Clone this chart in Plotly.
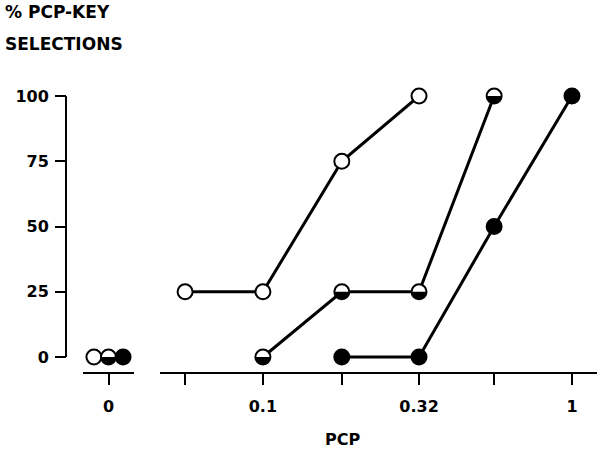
import plotly.graph_objects as go

# ---- data ----
DOSE_TICKS = [0.056, 0.1, 0.18, 0.32, 0.56, 1]
DOSE_TICK_TEXT = ["", "0.1", "", "0.32", "", "1"]
Y_TICKS = [0, 25, 50, 75, 100]

open_x = [0.056, 0.1, 0.18, 0.32]
open_y = [25, 25, 75, 100]
half_x = [0.1, 0.18, 0.32, 0.56]
half_y = [0, 25, 25, 100]
filled_x = [0.18, 0.32, 0.56, 1]
filled_y = [0, 0, 50, 100]
zero_y = [0, 0, 0]  # open, half, filled at PCP = 0

# ---- layout geometry (pixels) ----
W, H = 601, 450
L, R, T, B = 66, 4, 96, 77
PW, PH = W - L - R, H - T - B
Y0_PX = 357  # pixel row of y=0
Y_LO = min(Y_TICKS) - (H - B - Y0_PX) * (max(Y_TICKS) - min(Y_TICKS)) / (Y0_PX - T)


def px_x(px):
    return (px - L) / PW


def px_y(py):
    return (H - B - py) / PH


FONT = dict(family="DejaVu Sans", size=16, color="black", weight="bold")
TFONT = dict(family="DejaVu Sans", size=17, color="black", weight="bold")
MS = 15
R_HALF = 7.5
k = 0.5523 * R_HALF
HALF_PATH = (f"M {-R_HALF},0 C {-R_HALF},{-k} {-k},{-R_HALF} 0,{-R_HALF} "
             f"C {k},{-R_HALF} {R_HALF},{-k} {R_HALF},0 Z")
ZERO_SLOTS = [-1, 0, 1]

open_marker = dict(symbol="circle", size=MS, color="white", line=dict(color="black", width=2))
filled_marker = dict(symbol="circle", size=MS, color="black", line=dict(color="black", width=2))
line_style = dict(color="black", width=3)

fig = go.Figure()
fig.add_trace(go.Scatter(x=open_x, y=open_y, xaxis="x2", yaxis="y", mode="lines+markers",
                         marker=open_marker, line=line_style, cliponaxis=False))
fig.add_trace(go.Scatter(x=half_x, y=half_y, xaxis="x2", yaxis="y", mode="lines+markers",
                         marker=open_marker, line=line_style, cliponaxis=False))
fig.add_trace(go.Scatter(x=filled_x, y=filled_y, xaxis="x2", yaxis="y", mode="lines+markers",
                         marker=filled_marker, line=line_style, cliponaxis=False))
# PCP = 0 points
fig.add_trace(go.Scatter(x=[ZERO_SLOTS[0]], y=[zero_y[0]], xaxis="x", yaxis="y", mode="markers",
                         marker=open_marker, cliponaxis=False))
fig.add_trace(go.Scatter(x=[ZERO_SLOTS[1]], y=[zero_y[1]], xaxis="x", yaxis="y", mode="markers",
                         marker=open_marker, cliponaxis=False))
fig.add_trace(go.Scatter(x=[ZERO_SLOTS[2]], y=[zero_y[2]], xaxis="x", yaxis="y", mode="markers",
                         marker=filled_marker, cliponaxis=False))

shapes = []
# y axis line spanning only 0..100
shapes.append(dict(type="line", xref="paper", yref="y", x0=0, x1=0,
                   y0=min(Y_TICKS), y1=max(Y_TICKS), line=dict(color="black", width=2)))
# lower-half fill for the half-filled symbols
for xv, yv in zip(half_x, half_y):
    shapes.append(dict(type="path", xref="x2", yref="y", xsizemode="pixel", ysizemode="pixel",
                       xanchor=xv, yanchor=yv, path=HALF_PATH, fillcolor="black",
                       line=dict(width=0), layer="above"))
shapes.append(dict(type="path", xref="x", yref="y", xsizemode="pixel", ysizemode="pixel",
                   xanchor=ZERO_SLOTS[1], yanchor=zero_y[1], path=HALF_PATH, fillcolor="black",
                   line=dict(width=0), layer="above"))

axis_common = dict(showline=True, linecolor="black", linewidth=2, ticks="outside",
                   ticklen=11, tickwidth=2, tickcolor="black", showgrid=False,
                   zeroline=False, tickfont=FONT)

fig.update_layout(
    width=W, height=H,
    margin=dict(l=L, r=R, t=T, b=B, pad=0),
    paper_bgcolor="white", plot_bgcolor="white",
    showlegend=False,
    shapes=shapes,
    xaxis=dict(domain=[px_x(83), px_x(134)], range=[-1.75, 1.75], anchor="free", position=0,
               tickvals=[0], ticktext=["0"], ticklabelstandoff=8, **axis_common),
    xaxis2=dict(type="log", domain=[px_x(160), 1], range=[-1.333, 0.081], anchor="free",
                position=0, tickvals=DOSE_TICKS, ticktext=DOSE_TICK_TEXT,
                ticklabelstandoff=8, **axis_common),
    yaxis=dict(domain=[0, 1], range=[Y_LO, max(Y_TICKS)], anchor="free", position=0,
               tickvals=Y_TICKS, ticklabelstandoff=3,
               **{**axis_common, "showline": False}),
    annotations=[
        dict(text="% PCP-KEY", x=px_x(3), y=px_y(12), xref="paper", yref="paper",
             xanchor="left", yanchor="middle", showarrow=False, font=TFONT),
        dict(text="SELECTIONS", x=px_x(3), y=px_y(44), xref="paper", yref="paper",
             xanchor="left", yanchor="middle", showarrow=False, font=TFONT),
        dict(text="PCP", x=px_x(342), y=px_y(439), xref="paper", yref="paper",
             xanchor="center", yanchor="middle", showarrow=False, font=FONT),
    ],
)

fig.write_html("out.html", config={"displayModeBar": False},
               post_script="document.body.style.margin='0';")
